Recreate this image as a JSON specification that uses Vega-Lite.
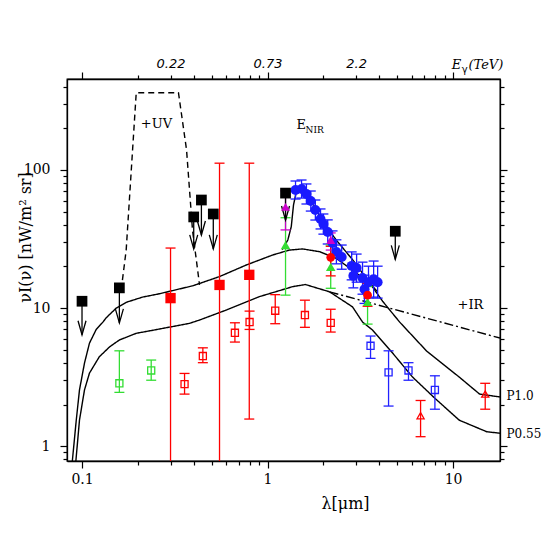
{
  "$schema": "https://vega.github.io/schema/vega-lite/v6.json",
  "width": 433,
  "height": 382,
  "autosize": {"type": "none"},
  "padding": {"left": 67, "top": 79, "right": 45, "bottom": 84},
  "background": "white",
  "config": {
    "view": {"stroke": "black", "strokeWidth": 1.3},
    "axis": {"grid": false, "domain": false, "domainColor": "black", "domainWidth": 1.3, "ticks": true, "tickColor": "black", "tickWidth": 1.2, "labelColor": "black", "titleColor": "black", "labelFont": "DejaVu Serif", "titleFont": "DejaVu Serif", "labelFontSize": 14, "titleFontSize": 16, "titleFontWeight": "normal"},
    "text": {"color": "black"},
    "legend": {"disable": true}
  },
  "datasets": {
    "curves": [
      {"c": "P1.0", "lam": 0.088, "v": 0.70}, {"c": "P1.0", "lam": 0.0931, "v": 1.54}, {"c": "P1.0", "lam": 0.0969, "v": 2.55}, {"c": "P1.0", "lam": 0.1031, "v": 3.99}, {"c": "P1.0", "lam": 0.1097, "v": 5.57}, {"c": "P1.0", "lam": 0.1193, "v": 7.0}, {"c": "P1.0", "lam": 0.1295, "v": 7.9}, {"c": "P1.0", "lam": 0.135, "v": 8.5}, {"c": "P1.0", "lam": 0.153, "v": 10.0}, {"c": "P1.0", "lam": 0.173, "v": 11.0}, {"c": "P1.0", "lam": 0.212, "v": 12.0}, {"c": "P1.0", "lam": 0.262, "v": 12.7}, {"c": "P1.0", "lam": 0.396, "v": 14.5}, {"c": "P1.0", "lam": 0.551, "v": 16.9}, {"c": "P1.0", "lam": 0.768, "v": 20.5}, {"c": "P1.0", "lam": 1.064, "v": 24.2}, {"c": "P1.0", "lam": 1.31, "v": 26.3}, {"c": "P1.0", "lam": 1.544, "v": 26.8}, {"c": "P1.0", "lam": 1.906, "v": 25.6}, {"c": "P1.0", "lam": 2.345, "v": 22.9}, {"c": "P1.0", "lam": 2.87, "v": 18.8}, {"c": "P1.0", "lam": 3.55, "v": 15.2}, {"c": "P1.0", "lam": 4.17, "v": 11.2}, {"c": "P1.0", "lam": 5.15, "v": 7.92}, {"c": "P1.0", "lam": 7.2, "v": 4.88}, {"c": "P1.0", "lam": 10.8, "v": 3.16}, {"c": "P1.0", "lam": 13.9, "v": 2.38}, {"c": "P1.0", "lam": 17.9, "v": 2.27},
      {"c": "P0.55", "lam": 0.092, "v": 0.70}, {"c": "P0.55", "lam": 0.0969, "v": 1.54}, {"c": "P0.55", "lam": 0.1031, "v": 2.55}, {"c": "P0.55", "lam": 0.1097, "v": 3.38}, {"c": "P0.55", "lam": 0.124, "v": 4.44}, {"c": "P0.55", "lam": 0.141, "v": 5.24}, {"c": "P0.55", "lam": 0.159, "v": 5.87}, {"c": "P0.55", "lam": 0.196, "v": 6.56}, {"c": "P0.55", "lam": 0.262, "v": 7.05}, {"c": "P0.55", "lam": 0.38, "v": 7.75}, {"c": "P0.55", "lam": 0.43, "v": 8.19}, {"c": "P0.55", "lam": 0.599, "v": 9.67}, {"c": "P0.55", "lam": 0.905, "v": 12.1}, {"c": "P0.55", "lam": 1.369, "v": 14.3}, {"c": "P0.55", "lam": 1.6, "v": 14.8}, {"c": "P0.55", "lam": 2.16, "v": 13.1}, {"c": "P0.55", "lam": 2.87, "v": 10.2}, {"c": "P0.55", "lam": 3.25, "v": 7.92}, {"c": "P0.55", "lam": 3.68, "v": 6.93}, {"c": "P0.55", "lam": 4.72, "v": 4.72}, {"c": "P0.55", "lam": 6.05, "v": 3.16}, {"c": "P0.55", "lam": 7.95, "v": 2.23}, {"c": "P0.55", "lam": 10.8, "v": 1.54}, {"c": "P0.55", "lam": 15.2, "v": 1.27}, {"c": "P0.55", "lam": 17.9, "v": 1.24},
      {"c": "UV", "lam": 0.1626, "v": 13.5}, {"c": "UV", "lam": 0.173, "v": 26.3}, {"c": "UV", "lam": 0.196, "v": 363}, {"c": "UV", "lam": 0.331, "v": 363}, {"c": "UV", "lam": 0.366, "v": 139.6}, {"c": "UV", "lam": 0.394, "v": 36.7}, {"c": "UV", "lam": 0.43, "v": 14.7},
      {"c": "IR", "lam": 2.16, "v": 13.1}, {"c": "IR", "lam": 17.9, "v": 6.06},
      {"c": "NIR", "lam": 1.2, "v": 26.5}, {"c": "NIR", "lam": 1.286, "v": 31.1}, {"c": "NIR", "lam": 1.342, "v": 38.8}, {"c": "NIR", "lam": 1.38, "v": 55.7}, {"c": "NIR", "lam": 1.428, "v": 69.3}, {"c": "NIR", "lam": 1.488, "v": 72.5}, {"c": "NIR", "lam": 1.55, "v": 70.8}, {"c": "NIR", "lam": 1.649, "v": 64}, {"c": "NIR", "lam": 1.754, "v": 57.4}, {"c": "NIR", "lam": 1.987, "v": 42.2}, {"c": "NIR", "lam": 2.345, "v": 31.1}, {"c": "NIR", "lam": 2.88, "v": 22.3}, {"c": "NIR", "lam": 3.55, "v": 15.2}, {"c": "NIR", "lam": 3.9, "v": 13.2}
    ],
    "pts": [
      {"s": "Ro", "lam": 0.357, "v": 2.81, "lo": 2.38, "hi": 3.36},
      {"s": "Ro", "lam": 0.448, "v": 4.49, "lo": 4.02, "hi": 5.15},
      {"s": "Ro", "lam": 0.667, "v": 6.62, "lo": 5.67, "hi": 7.82},
      {"s": "Ro", "lam": 0.80, "v": 7.92, "lo": 7.0, "hi": 9.5},
      {"s": "Ro", "lam": 1.10, "v": 9.56, "lo": 7.7, "hi": 12.5},
      {"s": "Ro", "lam": 1.59, "v": 8.9, "lo": 7.25, "hi": 11.4},
      {"s": "Ro", "lam": 2.19, "v": 7.8, "lo": 6.7, "hi": 9.8},
      {"s": "Go", "lam": 0.159, "v": 2.85, "lo": 2.45, "hi": 4.9},
      {"s": "Go", "lam": 0.236, "v": 3.53, "lo": 3.0, "hi": 4.2},
      {"s": "Bo", "lam": 3.59, "v": 5.33, "lo": 4.32, "hi": 6.27},
      {"s": "Bo", "lam": 4.49, "v": 3.42, "lo": 1.95, "hi": 4.9},
      {"s": "Bo", "lam": 5.75, "v": 3.53, "lo": 3.0, "hi": 4.02},
      {"s": "Bo", "lam": 7.98, "v": 2.55, "lo": 1.85, "hi": 3.23},
      {"s": "Rt", "lam": 6.68, "v": 1.66, "lo": 1.17, "hi": 2.14},
      {"s": "Rt", "lam": 14.9, "v": 2.38, "lo": 1.85, "hi": 2.85},
      {"s": "Bc", "lam": 1.415, "v": 71.6, "lo": 61.6, "hi": 83.2},
      {"s": "Bc", "lam": 1.525, "v": 72.8, "lo": 62.6, "hi": 84.6},
      {"s": "Bc", "lam": 1.62, "v": 67, "lo": 56.7, "hi": 79.2},
      {"s": "Bc", "lam": 1.71, "v": 59.6, "lo": 50.4, "hi": 70.4},
      {"s": "Bc", "lam": 1.81, "v": 51.3, "lo": 43.4, "hi": 60.6},
      {"s": "Bc", "lam": 1.93, "v": 44.2, "lo": 37.4, "hi": 52.2},
      {"s": "Bc", "lam": 2.0, "v": 40.6, "lo": 34.3, "hi": 48},
      {"s": "Bc", "lam": 2.11, "v": 35.6, "lo": 29.1, "hi": 43.5},
      {"s": "Bc", "lam": 2.24, "v": 29.6, "lo": 24.2, "hi": 36.2},
      {"s": "Bc", "lam": 2.35, "v": 25.5, "lo": 20.9, "hi": 31.2},
      {"s": "Bc", "lam": 2.51, "v": 23.4, "lo": 19.1, "hi": 28.6},
      {"s": "Bc", "lam": 2.84, "v": 20.2, "lo": 16, "hi": 25.5},
      {"s": "Bc", "lam": 3.02, "v": 19.5, "lo": 15.4, "hi": 24.6},
      {"s": "Bc", "lam": 2.9, "v": 17.1, "lo": 14, "hi": 20.9},
      {"s": "Bc", "lam": 3.25, "v": 16.5, "lo": 12.6, "hi": 21.5},
      {"s": "Bc", "lam": 3.5, "v": 15.4, "lo": 11.8, "hi": 20.1},
      {"s": "Bc", "lam": 3.73, "v": 16.2, "lo": 12, "hi": 21.9},
      {"s": "Bc", "lam": 3.92, "v": 15.4, "lo": 11.8, "hi": 20.1},
      {"s": "Bc", "lam": 3.33, "v": 13.7, "lo": 10.8, "hi": 17.3},
      {"s": "Gt", "lam": 1.25, "v": 28.6, "lo": 12.4, "hi": 45.1},
      {"s": "Gt", "lam": 2.19, "v": 19.9, "lo": 13.9, "hi": 28.6},
      {"s": "Gt", "lam": 3.46, "v": 11.1, "lo": 7.65, "hi": 14.3},
      {"s": "Mt", "lam": 1.25, "v": 54, "lo": 36.8, "hi": 70.6},
      {"s": "Mt", "lam": 2.19, "v": 31.1, "lo": 26.3, "hi": 35},
      {"s": "Rc", "lam": 2.19, "v": 23.3, "lo": 17.1, "hi": 28},
      {"s": "Rc", "lam": 3.46, "v": 12.4, "lo": 10.3, "hi": 15.1},
      {"s": "Rf", "lam": 0.30, "v": 11.8, "lo": 0.3, "hi": 27.2},
      {"s": "Rf", "lam": 0.551, "v": 14.7, "lo": 0.3, "hi": 112},
      {"s": "Rf", "lam": 0.797, "v": 17.4, "lo": 1.57, "hi": 112},
      {"s": "UL", "lam": 0.1, "v": 11.2, "tip": 6.4},
      {"s": "UL", "lam": 0.159, "v": 14.0, "tip": 7.8},
      {"s": "UL", "lam": 0.40, "v": 45.7, "tip": 26.8},
      {"s": "UL", "lam": 0.44, "v": 60.6, "tip": 33.8},
      {"s": "UL", "lam": 0.51, "v": 48, "tip": 26.8},
      {"s": "UL", "lam": 1.25, "v": 68, "tip": 43.4},
      {"s": "UL", "lam": 4.88, "v": 36, "tip": 22.5}
    ],
    "one": [{}]
  },
  "layer": [
    {
      "data": {"name": "curves"},
      "mark": {"type": "line", "color": "black", "strokeWidth": 1.4, "clip": true},
      "encoding": {
        "x": {"field": "lam", "type": "quantitative", "scale": {"type": "log", "domain": [0.083, 17.9], "nice": false},
          "axis": {"orient": "bottom", "values": [0.1, 1, 10], "format": "~g", "domain": true, "tickSize": 7, "labelPadding": 4, "title": "λ[μm]", "titleX": 278, "titleY": 42, "titleBaseline": "middle"}},
        "y": {"field": "v", "type": "quantitative", "scale": {"type": "log", "domain": [0.78, 456], "nice": false},
          "axis": {"orient": "left", "values": [1, 10, 100], "format": "~g", "domain": true, "tickSize": 7, "labelPadding": 10, "title": "νI(ν) [nW/m² sr]", "titleX": -42, "titleY": 158, "titleBaseline": "middle"}},
        "detail": {"field": "c"},
        "strokeDash": {"field": "c", "type": "nominal", "scale": {"domain": ["P1.0", "P0.55", "UV", "IR", "NIR"], "range": [[1, 0], [1, 0], [6, 4], [9, 3, 2, 3], [1, 0]]}, "legend": null}
      }
    },
    {
      "data": {"name": "pts"},
      "transform": [{"filter": "isValid(datum.lo)"}],
      "mark": {"type": "rule", "strokeWidth": 1.3, "clip": true},
      "encoding": {
        "x": {"field": "lam", "type": "quantitative", "scale": {"type": "log", "domain": [0.083, 17.9], "nice": false},
          "axis": {"orient": "bottom", "values": [0.2, 0.3, 0.4, 0.5, 0.6, 0.7, 0.8, 0.9, 2, 3, 4, 5, 6, 7, 8, 9], "tickSize": 4, "labels": false, "title": null}},
        "y": {"field": "lo", "type": "quantitative", "scale": {"type": "log", "domain": [0.78, 456], "nice": false},
          "axis": {"orient": "left", "values": [0.8, 0.9, 2, 3, 4, 5, 6, 7, 8, 9, 20, 30, 40, 50, 60, 70, 80, 90, 200, 300, 400], "tickSize": 4, "labels": false, "title": null}},
        "y2": {"field": "hi"},
        "color": {"field": "s", "type": "nominal", "scale": {"domain": ["UL", "Rf", "Ro", "Go", "Bo", "Rt", "Bc", "Gt", "Mt", "Rc"], "range": ["#000000", "#ff0000", "#ff0000", "#33dd33", "#2222ff", "#ff0000", "#1a1aff", "#33dd33", "#cc00cc", "#ff0000"]}, "legend": null}
      }
    },
    {
      "data": {"name": "pts"},
      "transform": [{"filter": "isValid(datum.lo)"}],
      "mark": {"type": "point", "shape": "stroke", "size": 100, "strokeWidth": 1.3, "opacity": 1, "clip": true},
      "encoding": {
        "x": {"field": "lam", "type": "quantitative", "scale": {"type": "log", "domain": [0.083, 17.9], "nice": false},
          "axis": {"orient": "top", "values": [0.1, 1, 10], "domain": true, "tickSize": 7, "labels": false, "title": null}},
        "y": {"field": "lo", "type": "quantitative", "scale": {"type": "log", "domain": [0.78, 456], "nice": false},
          "axis": {"orient": "right", "values": [1, 10, 100], "domain": true, "tickSize": 7, "labels": false, "title": null}},
        "color": {"field": "s", "type": "nominal", "legend": null}
      }
    },
    {
      "data": {"name": "pts"},
      "transform": [{"filter": "isValid(datum.hi)"}],
      "mark": {"type": "point", "shape": "stroke", "size": 100, "strokeWidth": 1.3, "opacity": 1, "clip": true},
      "encoding": {
        "x": {"field": "lam", "type": "quantitative", "scale": {"type": "log", "domain": [0.083, 17.9], "nice": false},
          "axis": {"orient": "top", "values": [0.2, 0.3, 0.4, 0.5, 0.6, 0.7, 0.8, 0.9, 2, 3, 4, 5, 6, 7, 8, 9], "tickSize": 4, "labels": false, "title": null}},
        "y": {"field": "hi", "type": "quantitative", "scale": {"type": "log", "domain": [0.78, 456], "nice": false},
          "axis": {"orient": "right", "values": [0.8, 0.9, 2, 3, 4, 5, 6, 7, 8, 9, 20, 30, 40, 50, 60, 70, 80, 90, 200, 300, 400], "tickSize": 4, "labels": false, "title": null}},
        "color": {"field": "s", "type": "nominal", "legend": null}
      }
    },
    {
      "data": {"name": "pts"},
      "transform": [{"filter": "datum.s == 'UL'"}],
      "mark": {"type": "rule", "color": "black", "strokeWidth": 1.3},
      "encoding": {
        "x": {"field": "lam", "type": "quantitative", "scale": {"type": "log", "domain": [0.083, 17.9], "nice": false},
          "axis": {"orient": "top", "values": [0.3, 1, 3], "ticks": false, "tickSize": 0, "labelPadding": 9, "labelExpr": "datum.value < 0.5 ? '0.22' : (datum.value < 2 ? '0.73' : '2.2')", "labelFont": "DejaVu Sans", "labelFontStyle": "italic", "labelFontSize": 13, "title": null}},
        "y": {"field": "v", "type": "quantitative", "scale": {"type": "log", "domain": [0.78, 456], "nice": false}, "axis": null},
        "y2": {"field": "tip"}
      }
    },
    {
      "data": {"name": "pts"},
      "transform": [{"filter": "datum.s == 'UL'"}],
      "mark": {"type": "point", "shape": "M-4,-14L0,0L4,-14", "size": 4, "filled": false, "color": "black", "strokeWidth": 1.3, "opacity": 1},
      "encoding": {
        "x": {"field": "lam", "type": "quantitative", "axis": null},
        "y": {"field": "tip", "type": "quantitative", "axis": null}
      }
    },
    {
      "data": {"name": "pts"},
      "transform": [{"filter": "indexof(['Ro','Go','Bo','Rt'], datum.s) >= 0"}],
      "mark": {"type": "point", "filled": false, "size": 50, "strokeWidth": 1.3, "opacity": 1},
      "encoding": {
        "x": {"field": "lam", "type": "quantitative", "axis": null},
        "y": {"field": "v", "type": "quantitative", "axis": null},
        "color": {"field": "s", "type": "nominal", "legend": null},
        "shape": {"field": "s", "type": "nominal", "scale": {"domain": ["UL", "Rf", "Ro", "Go", "Bo", "Rt", "Bc", "Gt", "Mt", "Rc"], "range": ["square", "square", "square", "square", "square", "triangle-up", "circle", "triangle-up", "triangle-up", "circle"]}, "legend": null}
      }
    },
    {
      "data": {"name": "pts"},
      "transform": [{"filter": "indexof(['Ro','Go','Bo','Rt'], datum.s) < 0"}],
      "mark": {"type": "point", "filled": true, "opacity": 1, "strokeWidth": 0},
      "encoding": {
        "x": {"field": "lam", "type": "quantitative", "axis": null},
        "y": {"field": "v", "type": "quantitative", "axis": null},
        "color": {"field": "s", "type": "nominal", "legend": null},
        "shape": {"field": "s", "type": "nominal", "legend": null},
        "size": {"field": "s", "type": "nominal", "scale": {"domain": ["UL", "Rf", "Bc", "Gt", "Mt", "Rc"], "range": [115, 75, 62, 60, 60, 70]}, "legend": null}
      }
    },
    {
      "data": {"name": "one"},
      "mark": {"type": "text", "color": "black", "font": "DejaVu Serif", "fontSize": 13, "align": "center", "baseline": "middle"},
      "encoding": {"x": {"datum": 0.252, "type": "quantitative", "axis": null}, "y": {"datum": 215, "type": "quantitative", "axis": null}, "text": {"value": "+UV"}}
    },
    {
      "data": {"name": "one"},
      "mark": {"type": "text", "color": "black", "font": "DejaVu Serif", "fontSize": 13, "align": "left", "baseline": "middle"},
      "encoding": {"x": {"datum": 1.433, "type": "quantitative", "axis": null}, "y": {"datum": 212, "type": "quantitative", "axis": null}, "text": {"value": "E"}}
    },
    {
      "data": {"name": "one"},
      "mark": {"type": "text", "color": "black", "font": "DejaVu Serif", "fontSize": 9, "align": "left", "baseline": "middle"},
      "encoding": {"x": {"datum": 1.603, "type": "quantitative", "axis": null}, "y": {"datum": 195, "type": "quantitative", "axis": null}, "text": {"value": "NIR"}}
    },
    {
      "data": {"name": "one"},
      "mark": {"type": "text", "color": "black", "font": "DejaVu Serif", "fontSize": 13, "align": "center", "baseline": "middle"},
      "encoding": {"x": {"datum": 12.4, "type": "quantitative", "axis": null}, "y": {"datum": 10.5, "type": "quantitative", "axis": null}, "text": {"value": "+IR"}}
    },
    {
      "data": {"name": "one"},
      "mark": {"type": "text", "color": "black", "font": "DejaVu Serif", "fontSize": 12, "align": "left", "baseline": "middle"},
      "encoding": {"x": {"datum": 19.4, "type": "quantitative", "axis": null}, "y": {"datum": 2.3, "type": "quantitative", "axis": null}, "text": {"value": "P1.0"}}
    },
    {
      "data": {"name": "one"},
      "mark": {"type": "text", "color": "black", "font": "DejaVu Serif", "fontSize": 12, "align": "left", "baseline": "middle"},
      "encoding": {"x": {"datum": 19.4, "type": "quantitative", "axis": null}, "y": {"datum": 1.22, "type": "quantitative", "axis": null}, "text": {"value": "P0.55"}}
    },
    {
      "data": {"name": "one"},
      "mark": {"type": "text", "color": "black", "font": "DejaVu Serif", "fontStyle": "italic", "fontSize": 13, "align": "left", "baseline": "alphabetic"},
      "encoding": {"x": {"datum": 9.83, "type": "quantitative", "axis": null}, "y": {"datum": 540, "type": "quantitative", "axis": null}, "text": {"value": "E"}}
    },
    {
      "data": {"name": "one"},
      "mark": {"type": "text", "color": "black", "font": "DejaVu Sans", "fontSize": 10, "align": "left", "baseline": "alphabetic"},
      "encoding": {"x": {"datum": 11.15, "type": "quantitative", "axis": null}, "y": {"datum": 505, "type": "quantitative", "axis": null}, "text": {"value": "γ"}}
    },
    {
      "data": {"name": "one"},
      "mark": {"type": "text", "color": "black", "font": "DejaVu Serif", "fontStyle": "italic", "fontSize": 13, "align": "left", "baseline": "alphabetic"},
      "encoding": {"x": {"datum": 12.1, "type": "quantitative", "axis": null}, "y": {"datum": 540, "type": "quantitative", "axis": null}, "text": {"value": "(TeV)"}}
    }
  ],
  "resolve": {"axis": {"x": "independent", "y": "independent"}}
}
